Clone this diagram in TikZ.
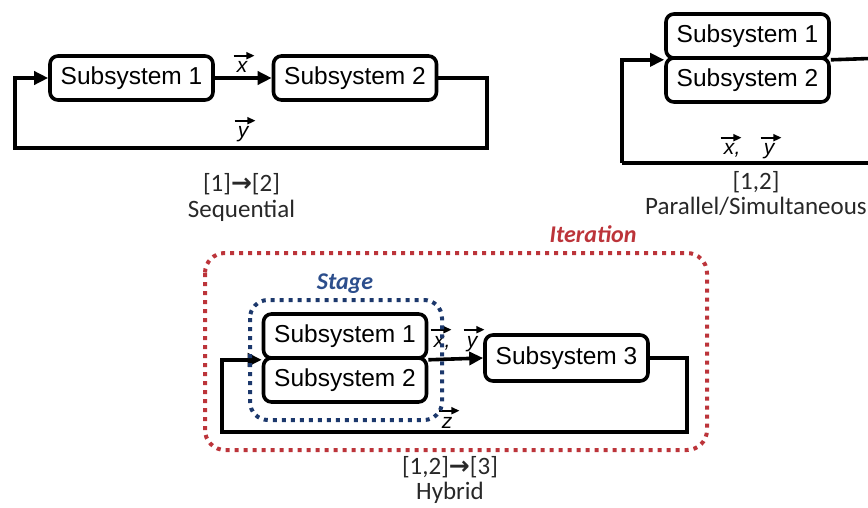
\documentclass[tikz,border=0pt]{standalone}
\usepackage{fontspec}
\setmainfont{Liberation Sans}
\newfontfamily\capfont{Carlito}
\newfontfamily\symfont{DejaVu Sans}
\usetikzlibrary{arrows.meta}
\definecolor{iterred}{RGB}{188,52,58}
\definecolor{stageblue}{RGB}{28,56,108}
\definecolor{stagetext}{RGB}{44,78,140}
\definecolor{captext}{RGB}{40,40,40}

% arrow drawn over a vector symbol node
\newcommand\vecmark[1]{\draw[vecarr] ([xshift=-3pt,yshift=6pt]#1.north west) -- ([xshift=7pt,yshift=6pt]#1.north east);}
% bold arrow used in the captions
\newcommand\caparrow{{\symfont\bfseries →}}

\tikzset{
  subsys/.style={draw, line width=3.6pt, rounded corners=8pt, minimum width=163pt,
    minimum height=44pt, inner sep=0pt, font=\fontsize{24.5}{27}\selectfont},
  flow/.style={line width=3.6pt, -{Triangle[length=14pt,width=13pt]}},
  plain/.style={line width=3.6pt},
  vlab/.style={inner sep=0pt, font=\fontsize{21}{23}\selectfont\itshape},
  vecarr/.style={line width=1.8pt, -{Triangle[length=8pt,width=7pt]}},
  caption/.style={inner sep=0pt, anchor=north, align=center, text=captext,
    font=\fontsize{25}{#1}\capfont},
  reddots/.style={draw=iterred, line width=4pt, dash pattern=on 4pt off 5pt, rounded corners=20pt},
  bluedots/.style={draw=stageblue, line width=4pt, dash pattern=on 4pt off 5pt, rounded corners=18pt},
}

\begin{document}
\begin{tikzpicture}[x=1pt, y=-1pt]
\useasboundingbox (0,0) rectangle (868,508);
\clip (0,0) rectangle (868,508);

% ---------- sequential ----------
\node[subsys] (s1) at (131.5,78) {Subsystem 1};
\node[subsys] (s2) at (355,78) {Subsystem 2};
\coordinate (sr) at (487,148);
\coordinate (sl) at (15,148);
\draw[flow] (s1) -- (s2);
\draw[flow] (s2.east) -| (sr) -- (sl) |- (s1.west);
\node[vlab, anchor=base] (sx) at (242,73) {x};
\vecmark{sx}
\node[vlab, anchor=base] (sy) at (243,138) {y};
\vecmark{sy}
\node[caption=26] (seq) at (241.5,173) {[1]\caparrow[2]\\Sequential};

% ---------- parallel ----------
\node[subsys] (p1) at (747.5,36) {Subsystem 1};
\node[subsys] (p2) at (747.5,80) {Subsystem 2};
\coordinate (pr) at (885,58);
\coordinate (prb) at (885,163);
\coordinate (pl) at (622,163);
\draw[plain] (p1.south east) -- (pr) -- (prb) -- (pl);
\draw[flow] (pl) |- (p1.south west);
\node[vlab, anchor=base] (px) at (729,155) {x};
\vecmark{px}
\node[vlab, anchor=base west] (pc) at (px.base east) {,};
\node[vlab, anchor=base] (py) at (769,155) {y};
\vecmark{py}
\node[caption=25] (par) at (756,171) {[1,2]\\Parallel/Simultaneous};

% ---------- hybrid ----------
\node[subsys] (h1) at (345,336) {Subsystem 1};
\node[subsys] (h2) at (345,380) {Subsystem 2};
\node[subsys, minimum height=46pt] (h3) at (566.5,358) {Subsystem 3};
\coordinate (hr) at (687,432);
\coordinate (hl) at (222,432);
\draw[flow] (h1.south east) -- (h3.west);
\draw[flow] (h3.east) -| (hr) -- (hl) |- (h1.south west);
\node[vlab, anchor=base] (hx) at (439,347) {x};
\vecmark{hx}
\node[vlab, anchor=base west] (hc) at (hx.base east) {,};
\node[vlab, anchor=base] (hy) at (472,347) {y};
\vecmark{hy}
\node[vlab, anchor=base] (hz) at (447,428) {z};
\vecmark{hz}

% iteration and stage groupings
\draw[reddots] (205,253) rectangle (707,450);
\draw[bluedots] (250,300) rectangle (442,420);
\node[inner sep=0pt, anchor=base, text=iterred, font=\fontsize{24}{28}\capfont\bfseries\itshape] (iter) at (593,242) {Iteration};
\node[inner sep=0pt, anchor=base, text=stagetext, font=\fontsize{24}{28}\capfont\bfseries\itshape] (stage) at (345,289) {Stage};
\node[caption=25] (hyb) at (450,456) {[1,2]\caparrow[3]\\Hybrid};
\end{tikzpicture}
\end{document}
